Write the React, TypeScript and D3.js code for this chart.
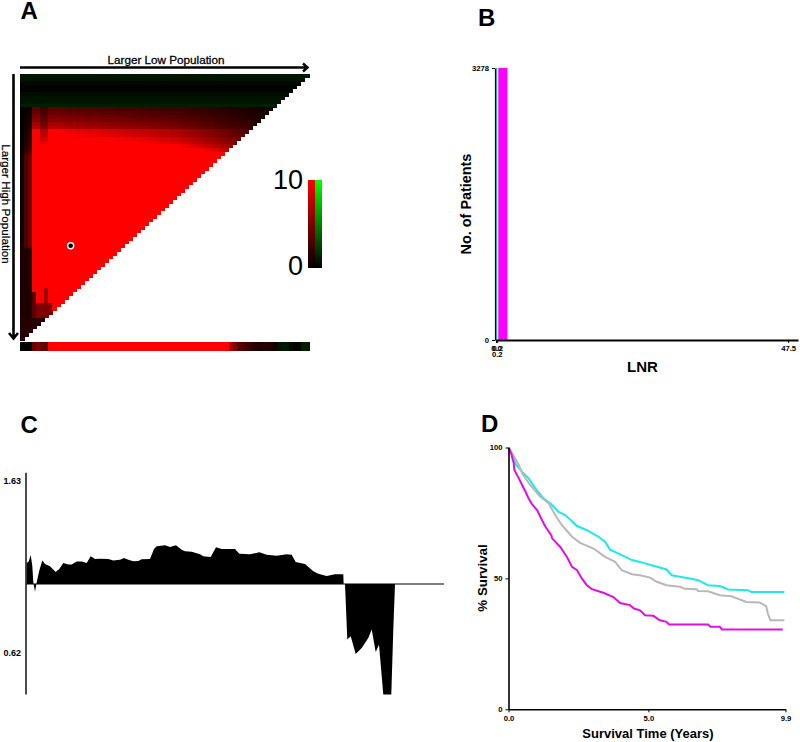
import { useRef, useEffect } from 'react';
import * as d3 from 'd3';

// Panel A: optimal cut point grid, cell value = rowLevels[r] * columnFactors[c]
const rowLevels = [
    -0.9, -0.8, -0.3, -0.1, -0.1, -0.5, -0.7, -0.8, -1.2,
    3.6, 4.2, 4.8, 5.4, 6.4, 7.2, 10, 10.5, 12, 13, 15, 18, 24,
    30, 30, 30, 30, 30, 30, 30, 30, 30, 30,
    30, 30, 30, 30, 30, 30, 30, 30, 30, 30,
    30, 30, 30, 30, 30, 30, 30, 30, 30, 30,
    30, 30, 30, 30, 30, 30, 30, 30, 30, 30,
    30, 30, 30, 30, 30, 30, 30, 30, 30, 30,
];
const columnFactors = [
    0.02, 0.1, 0.14, 1, 1, 0.7, 0.7, 1, 1, 1,
    0.98, 0.95, 0.92, 0.95, 0.9, 0.92, 0.9, 0.88, 0.9, 0.88,
    0.86, 0.86, 0.84, 0.84, 0.82, 0.82, 0.8, 0.8, 0.78, 0.78,
    0.76, 0.76, 0.74, 0.74, 0.72, 0.7, 0.7, 0.68, 0.68, 0.66,
    0.64, 0.62, 0.6, 0.58, 0.56, 0.54, 0.52, 0.5, 0.48, 0.46,
    0.44, 0.42, 0.4, 0.38, 0.36, 0.34, 0.32, 0.3, 0.28, 0.25,
    0.22, 0.2, 0.17, 0.14, 0.1, 0.08, 0.06, 0.05, 0.04, 0.03, 0.02, 0.02,
];
// dim patches in the lower left corner: [rowFrom, rowTo, colFrom, colTo, value]
const cornerPatches = [
    [47, 71, 0, 2, 1.2],
    [58, 66, 6, 6, 6],
    [59, 71, 3, 3, 3.5],
    [62, 71, 4, 7, 5],
    [66, 71, 0, 8, 1.5],
];
const stripValues = [
    0, 0, 0, 4, 5, 4, 3.5,
    10, 10, 10, 10, 10, 10, 10, 10, 10, 10, 10, 10, 10, 10, 10,
    10, 10, 10, 10, 10, 10, 10, 10, 10, 10, 10, 10, 10, 10, 10,
    10, 10, 10, 10, 10, 10, 10, 10, 10, 10, 10, 10, 10, 10, 10,
    6.5, 5, 3.5, 3, 2.5,
    2, 1.5, 1.2, 1.5, 1.5, 1.2, 0.8,
    -0.8, -1, -1, -0.3, -0.2, -0.2, -1.2, -1.2,
];
const bestCell = { col: 12, row: 46 };

// Panel B: LNR histogram
const lnrBins = [
    { x0: 0, x1: 0.2, count: 3278, color: '#18c8c8' },
    { x0: 0.37, x1: 1.85, count: 3278, color: '#ff00ff' },
];

// Panel C: hazard ratio at each cut point [cut, ratio]
const ratioPoints: [number, number][] = [
    [0.7, 1.129], [2.7, 1.137], [4.7, 1.177], [6.3, 1.112], [7.3, 1.01], [9, 0.958], [10.7, 1.01],
    [13.3, 1.082], [16.3, 1.143], [19, 1.122], [24, 1.108], [26.7, 1.092], [29.7, 1.073], [33.3, 1.092],
    [37.3, 1.129], [42.3, 1.12], [45.7, 1.12], [50.7, 1.137], [55.7, 1.137], [60.7, 1.129], [64.7, 1.17],
    [69, 1.153], [74, 1.155], [82.3, 1.153], [87.3, 1.143], [94, 1.149], [98, 1.159], [102.3, 1.149],
    [107.3, 1.139], [112.3, 1.141], [115.7, 1.151], [124, 1.153], [128, 1.214], [130.7, 1.231], [139, 1.237],
    [144, 1.226], [150, 1.237], [155.7, 1.21], [159, 1.2], [165.7, 1.198], [174, 1.182], [177.3, 1.17],
    [184.7, 1.165], [187.3, 1.194], [190, 1.225], [195.7, 1.214], [204, 1.214], [209, 1.214], [213.3, 1.185],
    [224, 1.182], [233.3, 1.194], [240.7, 1.179], [250.7, 1.173], [260.7, 1.182], [265.7, 1.179], [269.7, 1.135],
    [279, 1.122], [287.3, 1.078], [292.3, 1.063], [300.7, 1.049], [309, 1.059], [317.3, 1.059], [317.6, 1],
    [319, 1], [321.3, 0.694], [324.7, 0.712], [329.7, 0.615], [335.7, 0.648], [342.3, 0.703], [345.7, 0.749],
    [349.7, 0.626], [353, 0.666], [357.3, 0.391], [365.3, 0.391], [367.3, 0.749], [369, 1], [418, 1],
];

// Panel D: survival curves [years, % survival]
const survivalHigh: [number, number][] = [
    [0, 100], [0.096, 97.7], [0.19, 93.9], [0.21, 91.4], [0.37, 88.2], [0.49, 85.6], [0.61, 83.1], [0.72, 80.5],
    [0.84, 78.4], [1.02, 76.1], [1.2, 72.2], [1.32, 69.7], [1.53, 66.5], [1.56, 65.3], [1.85, 62], [2.09, 58.2],
    [2.27, 54.4], [2.45, 53.1], [2.62, 50], [2.8, 47.4], [2.98, 45.9], [3.39, 44.5], [3.75, 42.9], [3.99, 40.6],
    [4.34, 39.8], [4.49, 38.5], [4.7, 37.8], [4.88, 35.9], [5.18, 35.7], [5.41, 34], [5.65, 33.4], [5.74, 32.4],
    [7.13, 32.4], [7.22, 31.5], [7.55, 31.5], [7.63, 30.5], [9.8, 30.5],
];
const survivalLow: [number, number][] = [
    [0, 100], [0.19, 96.4], [0.25, 93.7], [0.49, 90.7], [0.72, 88.2], [0.96, 84.4], [1.26, 80.5], [1.5, 78.6],
    [1.79, 75.4], [2.03, 74.2], [2.45, 70], [2.8, 68.4], [3.22, 65.9], [3.45, 64], [3.63, 61], [4.05, 58.9],
    [4.41, 57], [4.7, 56.3], [5.18, 54.8], [5.65, 53.4], [5.83, 51.2], [6.48, 50], [6.78, 49.3], [7.13, 47.4],
    [7.55, 47.1], [7.85, 45.8], [8.56, 45.5], [8.68, 44.8], [9.86, 44.8],
];
const survivalAll: [number, number][] = [
    [0, 100], [0.17, 97.1], [0.37, 93.3], [0.49, 90.1], [0.78, 85.6], [1.14, 81.2], [1.44, 78.6], [1.67, 74.2],
    [1.91, 70.3], [2.27, 65.9], [2.56, 63.6], [3.04, 61.4], [3.45, 58.2], [3.81, 56.3], [4.05, 53.1], [4.41, 51.6],
    [4.7, 51.2], [5.06, 50.3], [5.3, 48.7], [5.65, 47.4], [6.13, 46.8], [6.3, 46], [6.72, 45.9], [6.78, 45.2],
    [7.13, 45.1], [7.55, 43.6], [7.97, 43.2], [8.5, 41], [8.97, 40.8], [9.21, 39.4], [9.27, 36.6], [9.36, 34], [9.86, 34],
];

const FONT = '"Liberation Sans", Arial, sans-serif';

export default function App() {
    const ref = useRef<SVGSVGElement>(null);

    useEffect(() => {
        if (!ref.current) return;
        const svg = d3.select(ref.current);
        svg.selectAll('*').remove();
        svg.style('font-family', FONT);

        const label = (x: number, y: number, text: string, size: number, weight = 'bold', anchor = 'middle', rotate = false) => {
            const t = svg.append('text')
                .attr('text-anchor', anchor)
                .style('font-size', `${size}px`)
                .style('font-weight', weight)
                .style('fill', 'black')
                .text(text);
            if (rotate) t.attr('transform', `translate(${x},${y}) rotate(-90)`);
            else t.attr('x', x).attr('y', y);
            return t;
        };

        const styleAxis = (g: any, width = 2, size = 7.7) => {
            g.selectAll('.domain').attr('stroke', 'black').attr('stroke-width', width);
            g.selectAll('.tick line').attr('stroke', 'black').attr('stroke-width', 1);
            g.selectAll('.tick text')
                .style('font-family', FONT)
                .style('font-size', `${size}px`)
                .style('font-weight', 'bold')
                .style('fill', 'black');
        };

        label(20.5, 19, 'A', 24, 'bold', 'start');
        label(478, 26, 'B', 24, 'bold', 'start');
        label(20.5, 433, 'C', 24, 'bold', 'start');
        label(481, 432, 'D', 24, 'bold', 'start');

        // ---- A ----
        const colIdx = d3.range(columnFactors.length);
        const rowIdx = d3.range(rowLevels.length);
        const xCell = d3.scaleBand<number>().domain(colIdx).range([20, 309]);
        const yCell = d3.scaleBand<number>().domain(rowIdx).range([74, 340]);
        const color = d3.scaleLinear<string>()
            .domain([-10, 0, 10])
            .range(['#00ff00', '#000000', '#ff0000'])
            .clamp(true);

        const cellValue = (r: number, c: number) => {
            const patch = cornerPatches.filter(p => r >= p[0] && r <= p[1] && c >= p[2] && c <= p[3]).pop();
            if (patch) return patch[4];
            return rowLevels[r] < 0 ? rowLevels[r] : rowLevels[r] * columnFactors[c];
        };

        const cells = rowIdx.flatMap(r => colIdx.filter(c => c + r < colIdx.length).map(c => ({ r, c, v: cellValue(r, c) })));
        svg.append('g')
            .attr('shape-rendering', 'crispEdges')
            .selectAll('rect')
            .data(cells)
            .join('rect')
            .attr('x', d => xCell(d.c)!)
            .attr('y', d => yCell(d.r)!)
            .attr('width', xCell.bandwidth() + 0.5)
            .attr('height', yCell.bandwidth() + 0.5)
            .attr('fill', d => color(d.v));

        svg.append('g')
            .attr('shape-rendering', 'crispEdges')
            .selectAll('rect')
            .data(stripValues)
            .join('rect')
            .attr('x', (_, i) => xCell(i)!)
            .attr('y', 342)
            .attr('width', xCell.bandwidth() + 0.5)
            .attr('height', 8.5)
            .attr('fill', d => color(d));

        svg.append('circle')
            .attr('cx', xCell(bestCell.col)! + xCell.bandwidth() / 2 + 0.5)
            .attr('cy', yCell(bestCell.row)! + yCell.bandwidth() / 2)
            .attr('r', 3)
            .attr('fill', 'black')
            .attr('stroke', 'white')
            .attr('stroke-width', 1.4);

        // arrows
        const arrow = d3.line();
        svg.append('path')
            .attr('d', arrow([[20, 67.5], [307, 67.5]]) + arrow([[303, 63.5], [307.5, 67.5], [303, 71.5]])!)
            .attr('fill', 'none').attr('stroke', 'black').attr('stroke-width', 2.4);
        svg.append('path')
            .attr('d', arrow([[13.5, 74], [13.5, 338]]) + arrow([[9, 333], [13.5, 338.5], [18, 333]])!)
            .attr('fill', 'none').attr('stroke', 'black').attr('stroke-width', 2.6);
        label(166, 64, 'Larger Low Population', 11.7, 'normal').style('stroke', 'black').style('stroke-width', 0.3);
        label(2, 204, 'Larger High Population', 11.7, 'normal', 'middle')
            .attr('x', null).attr('y', null)
            .attr('transform', 'translate(2,204) rotate(90)')
            .style('stroke', 'black').style('stroke-width', 0.2);

        // colour key
        const defs = svg.append('defs');
        const keyValues = [0, 2.5, 5, 7.5, 10];
        [['keyRed', 1], ['keyGreen', -1]].forEach(([id, sign]) => {
            defs.append('linearGradient')
                .attr('id', id as string)
                .attr('x1', 0).attr('y1', 1).attr('x2', 0).attr('y2', 0)
                .selectAll('stop')
                .data(keyValues)
                .join('stop')
                .attr('offset', d => d / 10)
                .attr('stop-color', d => color(d * (sign as number)));
        });
        const yKey = d3.scaleLinear().domain([0, 10]).range([268, 180]);
        svg.append('rect').attr('x', 308).attr('y', yKey(10)).attr('width', 7).attr('height', yKey(0) - yKey(10)).attr('fill', 'url(#keyRed)');
        svg.append('rect').attr('x', 315).attr('y', yKey(10)).attr('width', 7).attr('height', yKey(0) - yKey(10)).attr('fill', 'url(#keyGreen)');
        label(303, yKey(10) + 9, '10', 27, 'normal', 'end');
        label(303, yKey(0) + 7, '0', 27, 'normal', 'end');

        // ---- B ----
        const xLnr = d3.scaleLinear().domain([0, 49.1]).range([496, 798]);
        const yCount = d3.scaleLinear().domain([0, 3278]).range([340, 68]);
        svg.append('g')
            .selectAll('rect')
            .data(lnrBins)
            .join('rect')
            .attr('x', d => xLnr(d.x0))
            .attr('y', d => yCount(d.count))
            .attr('width', d => xLnr(d.x1) - xLnr(d.x0))
            .attr('height', d => yCount(0) - yCount(d.count))
            .attr('fill', d => d.color);
        svg.append('g')
            .attr('transform', `translate(${xLnr(0) - 1},0)`)
            .call(d3.axisLeft(yCount).tickValues([0, 3278]).tickFormat(d3.format('d')).tickSize(3).tickSizeOuter(0))
            .call(g => styleAxis(g, 1.2));
        svg.append('g')
            .attr('transform', `translate(0,${yCount(0)})`)
            .call(d3.axisBottom(xLnr).tickValues([0, 0.2, 47.5]).tickFormat(d3.format('.1f')).tickSize(3).tickSizeOuter(0))
            .call(g => styleAxis(g, 2));
        label(xLnr(0.2), 357, '0.2', 7.7);
        label(642.5, 372, 'LNR', 15);
        label(471, 204, 'No. of Patients', 14.4, 'bold', 'middle', true);

        // ---- C ----
        const xCut = d3.scaleLinear().domain([0, 418]).range([26, 444]);
        const yRatio = d3.scaleLinear().domain([0.62, 1, 1.63]).range([653, 584, 481]);
        const ratioArea = d3.area<[number, number]>()
            .x(d => xCut(d[0]))
            .y0(yRatio(1))
            .y1(d => yRatio(d[1]));
        svg.append('path').datum(ratioPoints).attr('d', ratioArea).attr('fill', 'black');
        svg.append('line')
            .attr('x1', xCut(0)).attr('x2', xCut(418))
            .attr('y1', yRatio(1)).attr('y2', yRatio(1))
            .attr('stroke', 'black').attr('stroke-width', 1.2);
        svg.append('line')
            .attr('x1', xCut(0)).attr('x2', xCut(0))
            .attr('y1', yRatio(1.68)).attr('y2', yRatio(0.391))
            .attr('stroke', 'black').attr('stroke-width', 1.4);
        svg.append('g')
            .attr('transform', `translate(${xCut(0)},0)`)
            .call(d3.axisLeft(yRatio).tickValues([0.62, 1.63]).tickFormat(d3.format('.2f')).tickSize(0).tickPadding(5))
            .call(g => { styleAxis(g, 1.4, 9); g.select('.domain').remove(); });

        // ---- D ----
        const xYears = d3.scaleLinear().domain([0, 9.9]).range([508.5, 785.5]);
        const ySurvival = d3.scaleLinear().domain([0, 100]).range([709.3, 447.5]);
        const survivalLine = d3.line<[number, number]>()
            .x(d => xYears(d[0]))
            .y(d => ySurvival(d[1]));
        [[survivalLow, '#20e8e8'], [survivalAll, '#b8b8b8'], [survivalHigh, '#e010e0']].forEach(([points, stroke]) => {
            svg.append('path')
                .datum(points as [number, number][])
                .attr('d', survivalLine)
                .attr('fill', 'none')
                .attr('stroke', stroke as string)
                .attr('stroke-width', 2);
        });
        svg.append('g')
            .attr('transform', `translate(${xYears(0)},0)`)
            .call(d3.axisLeft(ySurvival).tickValues([0, 50, 100]).tickFormat(d3.format('d')).tickSize(3).tickSizeOuter(0))
            .call(g => styleAxis(g, 1.6));
        svg.append('g')
            .attr('transform', `translate(0,${ySurvival(0)})`)
            .call(d3.axisBottom(xYears).tickValues([0, 5, 9.9]).tickFormat(d3.format('.1f')).tickSize(3).tickSizeOuter(0))
            .call(g => styleAxis(g, 1.6));
        label(648, 738, 'Survival Time (Years)', 13);
        label(487, 578, '% Survival', 13.3, 'bold', 'middle', true);
    }, []);

    return (
        <svg ref={ref} width={800} height={742} style={{ position: 'absolute', left: 0, top: 0, background: 'white' }} />
    );
}
